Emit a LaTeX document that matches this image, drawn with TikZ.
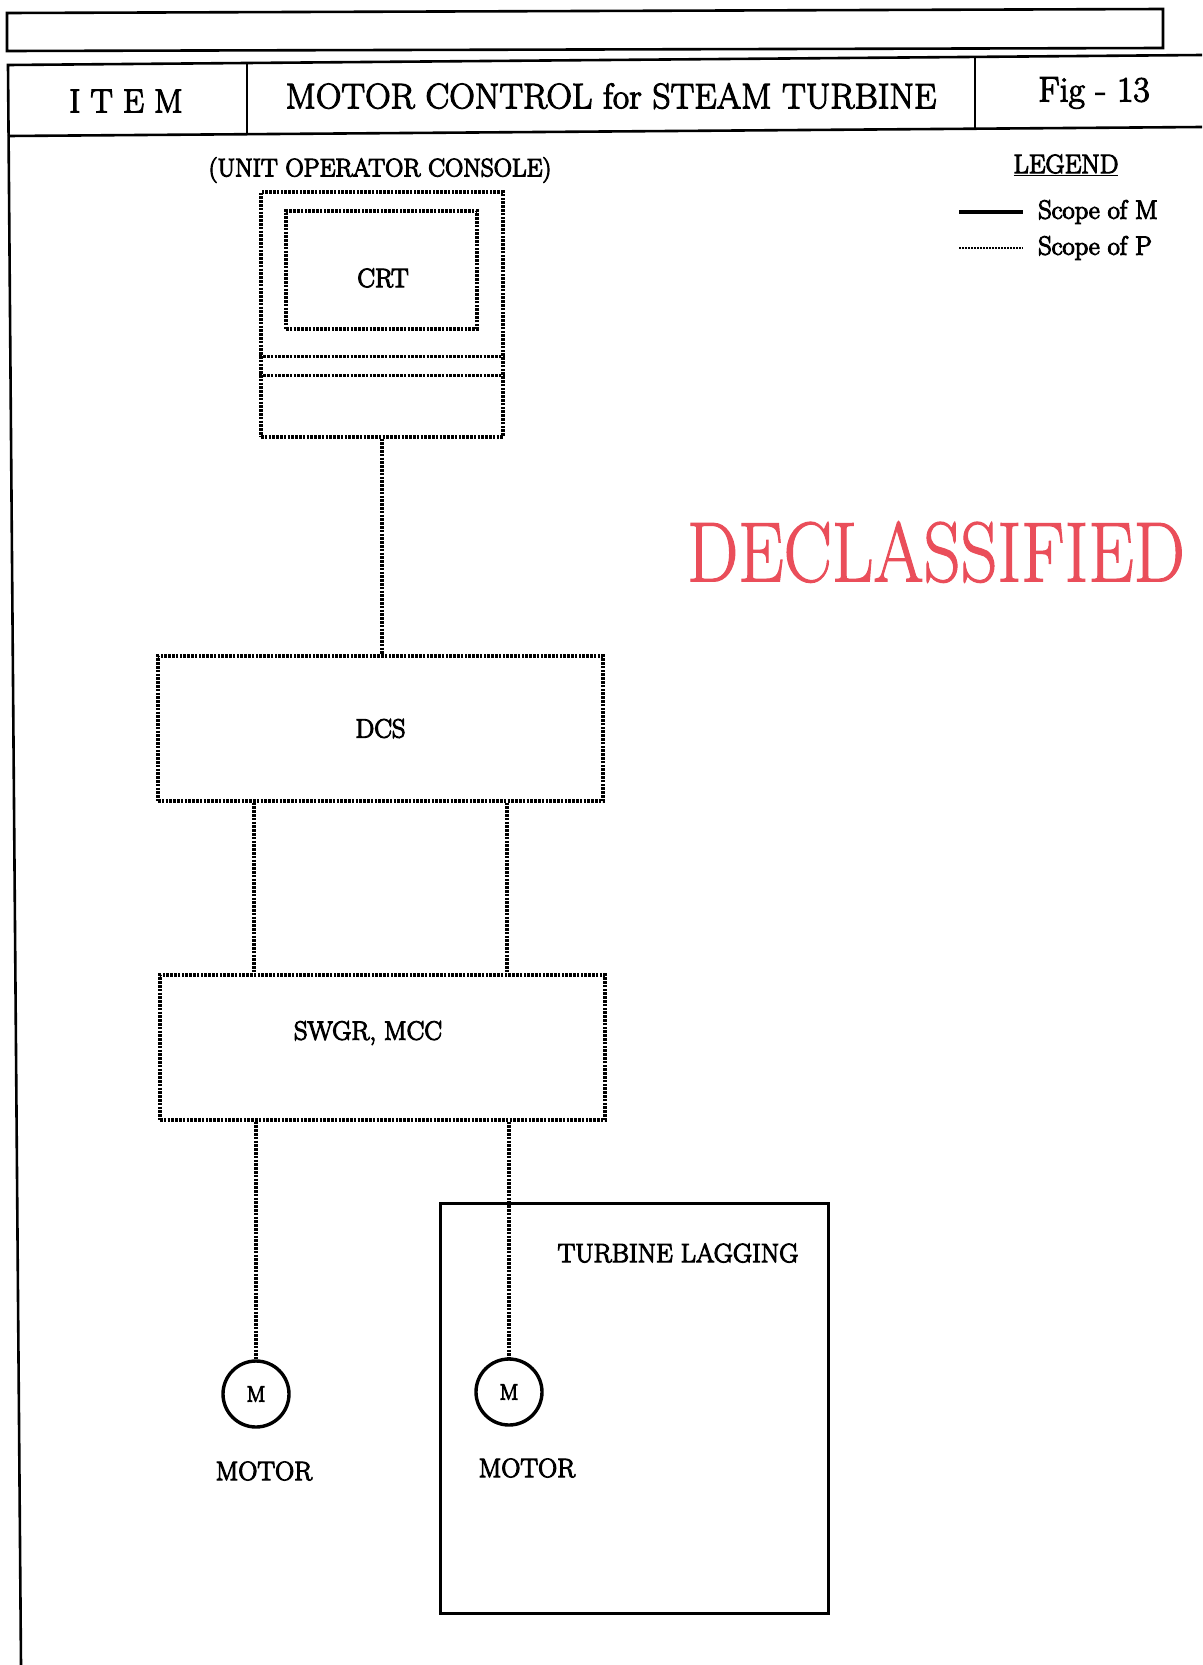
\documentclass[tikz,border=0pt]{standalone}
\usepackage{fontspec}
\usepackage{graphicx}
\usetikzlibrary{calc}
\definecolor{declred}{RGB}{234,78,90}
\newcommand{\heavy}[1]{\special{pdf:code 2 Tr #1 w}}
\tikzset{
  pdot/.style={line width=3.2pt, dash pattern=on 2.6pt off 1.2pt},
  pbox/.style={draw, pdot, rectangle, inner sep=0pt},
  framel/.style={line width=2.6pt},
  lbl/.style={font=\fontsize{26.5}{30}\selectfont\heavy{1.1}, inner sep=0pt},
  hdr/.style={font=\fontsize{35.5}{38}\selectfont\heavy{1.1}, inner sep=0pt},
  motor/.style={draw, circle, line width=3.4pt, minimum size=66pt, inner sep=0pt, font=\fontsize{22}{24}\selectfont\heavy{1.0}},
}
\begin{document}
\begin{tikzpicture}[x=1pt,y=-1pt]
\useasboundingbox[fill=white] (0,0) rectangle (1202,1665);
% top empty box
\draw[framel] (7,13) -- (1163,9) -- (1163,48) -- (7,51) -- cycle;
% header row and frame
\draw[framel] (1202,55) -- (8,65) -- (21,1665);
\draw[framel] (8,136) -- (1202,127);
\draw[framel] (247,63) -- (247,134);
\draw[framel] (975,57) -- (975,129);
\node[hdr, font=\fontsize{33.5}{36}\selectfont\heavy{1.1}] (item) at (126,101) {I T E M};
\node[hdr] (title) at (611,96) {MOTOR CONTROL for STEAM TURBINE};
\node[hdr] (fig) at (1094,93) {Fig - 13};
% legend
\node[lbl] (legend) at (1066,165) {\underline{LEGEND}};
\coordinate (lm1) at (959,212); \coordinate (lm2) at (1023,212);
\coordinate (lp1) at (959,248); \coordinate (lp2) at (1023,248);
\draw[line width=4.5pt] (lm1) -- (lm2);
\draw[line width=2pt, dash pattern=on 1.6pt off 1.4pt] (lp1) -- (lp2);
\node[lbl, anchor=west] (scm) at (1038,212) {Scope of M};
\node[lbl, anchor=west] (scp) at (1038,248) {Scope of P};
% stamp
\node[text=declred, inner sep=0pt, font=\heavy{1.2}] (stamp) at (936,552) {\scalebox{0.85}[1]{\fontsize{85}{85}\selectfont DECLASSIFIED}};
% console
\node[lbl, font=\fontsize{25.3}{28}\selectfont\heavy{1.1}] (uoc) at (380,170) {(UNIT OPERATOR CONSOLE)};
\node[pbox, minimum width=242pt, minimum height=245pt] (console) at (382,314.5) {};
\node[pbox, minimum width=191pt, minimum height=118pt] (crt) at (381.5,270) {};
\node[lbl] (crtl) at (383,278) {CRT};
\draw[pdot] ([yshift=82pt]console.south west) -- ([yshift=82pt]console.south east);
\draw[pdot] ([yshift=63pt]console.south west) -- ([yshift=63pt]console.south east);
% DCS and SWGR
\node[pbox, lbl, minimum width=445pt, minimum height=145pt] (dcs) at (380.5,728.5) {DCS};
\node[pbox, minimum width=445pt, minimum height=145pt] (swgr) at (382.5,1047.5) {};
\node[lbl] (swgrl) at (368,1033) {SWGR, MCC};
% turbine lagging
\node[draw, line width=3pt, minimum width=388pt, minimum height=410pt, inner sep=0pt] (lag) at (634,1408) {};
\node[lbl] (lagl) at (678,1253) {TURBINE LAGGING};
% motors
\node[motor] (m1) at (256,1394) {M};
\node[motor] (m2) at (509,1392) {M};
\node[lbl] (m1l) at (264,1471) {MOTOR};
\node[lbl] (m2l) at (527,1468) {MOTOR};
% connectors
\draw[pdot] (console.south) -- (console.south |- dcs.north);
\draw[pdot] ([xshift=-2pt]dcs.south -| m1.north) -- ([xshift=-2pt]swgr.north -| m1.north);
\draw[pdot] ([xshift=-2pt]dcs.south -| m2.north) -- ([xshift=-2pt]swgr.north -| m2.north);
\draw[pdot] (swgr.south -| m1.north) -- (m1.north);
\draw[pdot] (swgr.south -| m2.north) -- (m2.north);
\end{tikzpicture}
\end{document}
